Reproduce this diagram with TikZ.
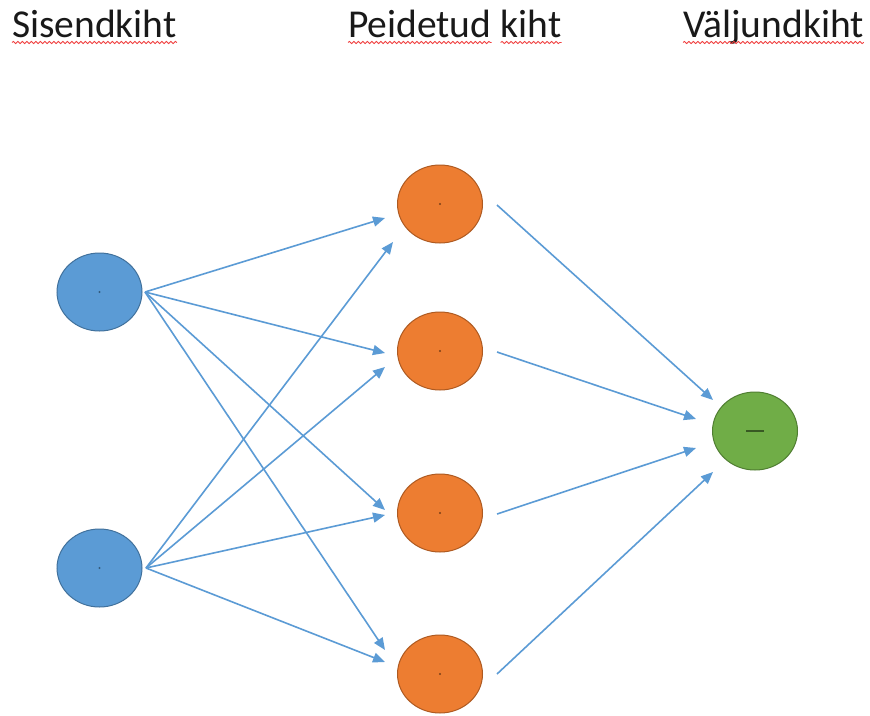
\documentclass[tikz,border=0pt]{standalone}
\usepackage{fontspec}
\setmainfont{Carlito}
\usetikzlibrary{shapes.geometric,arrows.meta,decorations.pathmorphing}
\definecolor{nblue}{HTML}{5B9BD5}
\definecolor{nbluedark}{HTML}{41719C}
\definecolor{norange}{HTML}{ED7D31}
\definecolor{norangedark}{HTML}{AE5A21}
\definecolor{ngreen}{HTML}{70AD47}
\definecolor{ngreendark}{HTML}{507E32}
\definecolor{arrowblue}{HTML}{5B9BD5}
\definecolor{spellred}{HTML}{F04040}
\begin{document}
\begin{tikzpicture}[x=1pt,y=-1pt,
  heading/.style={anchor=base west,inner sep=0pt,font=\fontsize{39.5}{41}\selectfont,text=black!90},
  wavy/.style={spellred,line width=0.8pt,decorate,decoration={snake,amplitude=1.1pt,segment length=4.5pt}},
  neuron/.style={ellipse,minimum width=85pt,minimum height=78pt,inner sep=0pt,line width=1pt},
  inneuron/.style={neuron,fill=nblue,draw=nbluedark,
    path picture={\fill[nbluedark!80!black] (path picture bounding box.center) circle (1.1pt);}},
  hidneuron/.style={neuron,fill=norange,draw=norangedark,
    path picture={\fill[norangedark!70!black] (path picture bounding box.center) circle (1.1pt);}},
  outneuron/.style={neuron,fill=ngreen,draw=ngreendark,
    path picture={\draw[ngreendark!70!black,line width=1.2pt] ([xshift=-9pt]path picture bounding box.center) -- ([xshift=9pt]path picture bounding box.center);}},
  conn/.style={arrowblue,line width=1.6pt,-{Triangle[length=12pt,width=10pt]}}
]
\useasboundingbox[fill=white] (0,0) rectangle (870,715);

% headings
\node[heading] (t1) at (12,37) {Sisendkiht};
\node[heading] (t2a) at (348,37) {Peidetud};
\node[heading,anchor=base west] (t2b) at ([xshift=9pt]t2a.base east) {kiht};
\node[heading] (t3) at (683,37) {Väljundkiht};
\foreach \t in {t1,t2a,t2b,t3}
  \draw[wavy] ([yshift=-5.5pt]\t.base west) -- ([yshift=-5.5pt]\t.base east);

% neurons
\node[inneuron] (b1) at (99.5,292) {};
\node[inneuron] (b2) at (99.5,568) {};
\node[hidneuron] (h1) at (440,204) {};
\node[hidneuron] (h2) at (440,351) {};
\node[hidneuron] (h3) at (440,513) {};
\node[hidneuron] (h4) at (440,674) {};
\node[outneuron] (o) at (755,431) {};

% connector end points
\coordinate (b1s) at (145,292);
\coordinate (b2s) at (146,568);
\coordinate (h1a) at (385,218);
\coordinate (h1b) at (393,242);
\coordinate (h2a) at (385,353);
\coordinate (h2b) at (385,367);
\coordinate (h3a) at (385,510);
\coordinate (h3b) at (385,515);
\coordinate (h4a) at (385,650);
\coordinate (h4b) at (385,662);
\coordinate (h1s) at (497,205);
\coordinate (h2s) at (497,352);
\coordinate (h3s) at (497,514);
\coordinate (h4s) at (497,674);
\coordinate (oa) at (713,400);
\coordinate (ob) at (696,419);
\coordinate (oc) at (696,448);
\coordinate (od) at (713,472);

% connectors
\draw[conn] (b1s) -- (h1a);
\draw[conn] (b1s) -- (h2a);
\draw[conn] (b1s) -- (h3a);
\draw[conn] (b1s) -- (h4a);
\draw[conn] (b2s) -- (h1b);
\draw[conn] (b2s) -- (h2b);
\draw[conn] (b2s) -- (h3b);
\draw[conn] (b2s) -- (h4b);
\draw[conn] (h1s) -- (oa);
\draw[conn] (h2s) -- (ob);
\draw[conn] (h3s) -- (oc);
\draw[conn] (h4s) -- (od);
\end{tikzpicture}
\end{document}
